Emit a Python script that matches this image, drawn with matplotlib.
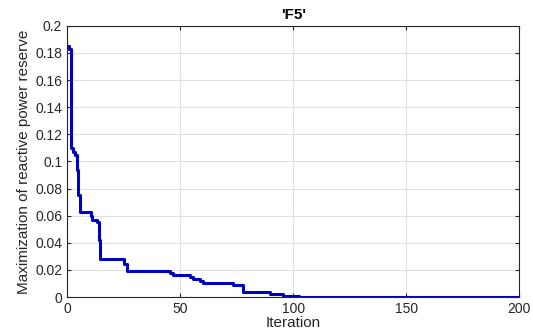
import numpy as np
import matplotlib
matplotlib.use("Agg")
import matplotlib.pyplot as plt

# 收敛曲线 (阶梯): 迭代号 -> 最优值
iters = [0, 1, 1.5, 1.8, 2.5, 3.5, 4.4, 5.0, 5.9, 10.6, 11.2, 13.2, 14.2, 14.5,
         25.2, 26.5, 45.5, 47.0, 54.3, 55.5, 58.7, 60.0, 73.3, 77.8, 89.6, 95.4,
         102.8, 200]
best = [0.185, 0.183, 0.143, 0.110, 0.107, 0.105, 0.094, 0.075, 0.063, 0.060,
        0.057, 0.055, 0.042, 0.028, 0.024, 0.019, 0.018, 0.0165, 0.015, 0.013,
        0.0115, 0.010, 0.009, 0.004, 0.002, 0.001, 0.0, 0.0]

xticks = [0, 50, 100, 150, 200]
yticks = [0, 0.02, 0.04, 0.06, 0.08, 0.1, 0.12, 0.14, 0.16, 0.18, 0.2]
ylabels = ["0", "0.02", "0.04", "0.06", "0.08", "0.1", "0.12", "0.14", "0.16", "0.18", "0.2"]

plt.rcParams["font.family"] = ["Liberation Sans", "DejaVu Sans"]
fig = plt.figure(figsize=(5.33, 3.36), dpi=100)
ax = fig.add_axes([0.126, 0.116, 0.848, 0.807])
ax.step(iters, best, where="post", color="#0000c0", lw=2.2)
ax.set_xlim(0, 200)
ax.set_ylim(0, 0.2)
ax.set_xticks(xticks)
ax.set_yticks(yticks)
ax.set_yticklabels(ylabels)
ax.grid(True, color="#e0e0e0", lw=0.8)
ax.set_axisbelow(True)
ax.tick_params(direction="in", top=True, right=True, length=3, labelsize=10,
               colors="#262626", labelcolor="#262626")
for s in ax.spines.values():
    s.set_color("#262626")
    s.set_linewidth(0.8)
ax.set_xlabel("Iteration", fontsize=11, color="#262626", labelpad=0)
ax.set_ylabel("Maximization of reactive power reserve", fontsize=11, color="#262626", labelpad=3)
ax.set_title("'F5'", fontsize=11, fontweight="bold", pad=5)
fig.savefig("out.png", dpi=100)
